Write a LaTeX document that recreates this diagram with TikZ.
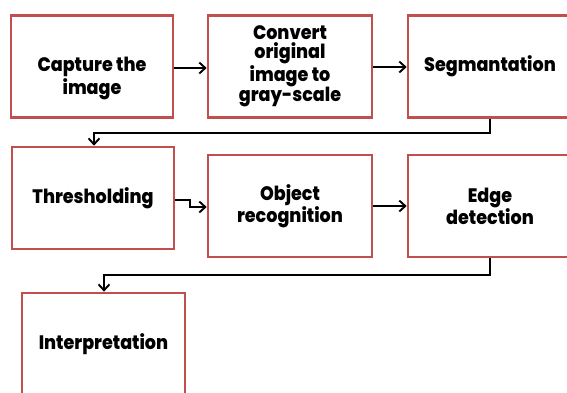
\documentclass[tikz,border=0pt]{standalone}
\usepackage{fontspec}
\newfontfamily\boxfont{Poppins}[FakeStretch=0.9, BoldFont={Poppins ExtraBold}]
\usetikzlibrary{arrows.meta}
\definecolor{boxred}{HTML}{C0504D}
\tikzset{
  stepbox/.style={draw=boxred, line width=2.6pt, fill=white, inner sep=0pt,
    minimum width=#1, minimum height=102pt},
  stepbox/.default=164pt,
  steptext/.style={font=\boxfont\bfseries\fontsize{19.5}{19.3}\selectfont,
    align=center, inner sep=0pt},
  flow/.style={draw=black, line width=1.9pt,
    -{Straight Barb[length=6pt,width=11pt,line width=1.9pt]}},
}
\begin{document}
\begin{tikzpicture}[x=1pt, y=-1pt]
\useasboundingbox (0,0) rectangle (567,392);
\clip (0,0) rectangle (567,392);
\fill[white] (0,0) rectangle (567,392);

% first row
\node[stepbox=162pt] (cap) at (92,66.5) {};
\node[steptext] (captxt) at (92,78.5) {Capture the\\image};
\node[stepbox, steptext] (conv) at (290,66.5) {Convert\\original\\image to\\gray-scale};
\node[stepbox, steptext] (seg) at (490,66.5) {Segmantation};

% second row
\node[stepbox=162pt, steptext] (thr) at (93,198) {Thresholding};
\node[stepbox, steptext] (obj) at (290,206) {Object\\recognition};
\node[stepbox, steptext] (edge) at (490,206) {Edge\\detection};

% third row
\node[stepbox=163pt, steptext] (intp) at (103.5,344) {Interpretation};

% connectors
\draw[flow] (cap.east |- 0,68) -- (conv.west |- 0,68);
\draw[flow] (conv.east |- 0,67) -- (seg.west |- 0,67);
\draw[flow] (seg.south) -- (490,133) -- (94,133) -- (thr.north -| 94,0);
\draw[flow] (thr.east |- 0,200) -- (190,200) -- (190,207) -- (obj.west |- 0,207);
\draw[flow] (obj.east |- 0,206) -- (edge.west |- 0,206);
\draw[flow] (edge.south) -- (490,275) -- (104,275) -- (intp.north -| 104,0);
\end{tikzpicture}
\end{document}
